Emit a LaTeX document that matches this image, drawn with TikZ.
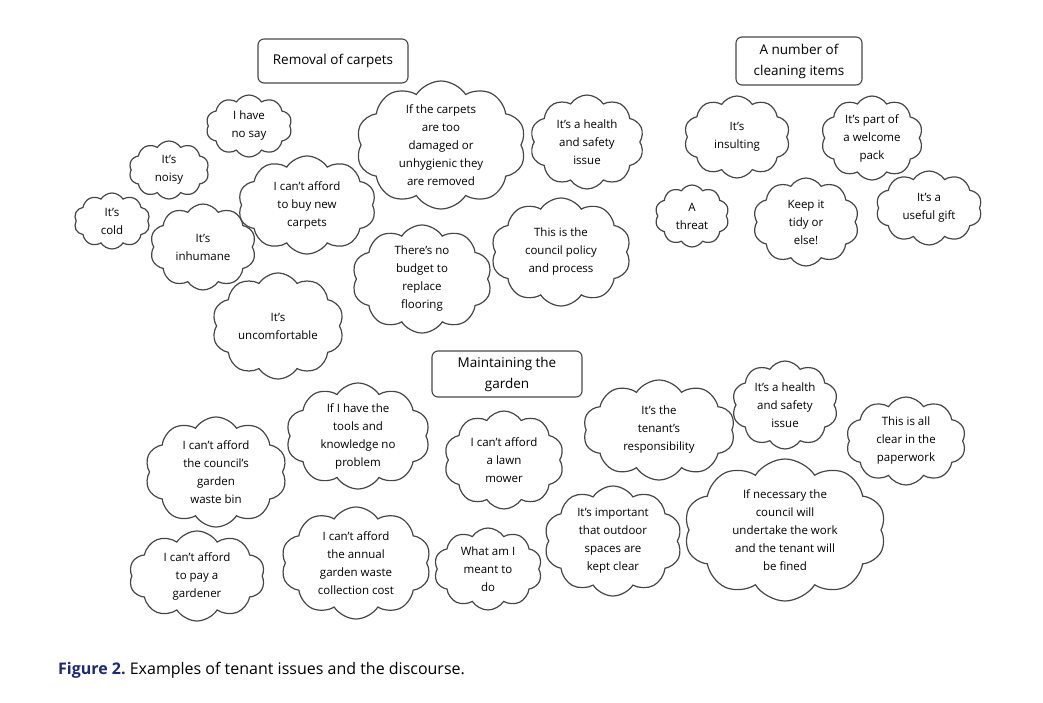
\documentclass[tikz,border=0pt]{standalone}
\usepackage{fontspec}
\setmainfont{Open Sans}
\usepackage{xcolor}
\usetikzlibrary{shapes.symbols,positioning}
\definecolor{capblue}{RGB}{25,40,120}
\definecolor{lineg}{RGB}{70,70,70}

\tikzset{
  puff/.style={cloud, draw=lineg, line width=1.2pt, cloud puffs=10, cloud puff arc=115, inner sep=0pt},
  say/.style={align=center, font=\fontsize{11.5}{18}\selectfont, inner sep=0pt},
  title/.style={draw=lineg, line width=1.1pt, rounded corners=6pt, align=center, font=\fontsize{13.5}{21}\selectfont, inner sep=0pt}
}
% cloud: name, x, y, width, height, text
\newcommand{\cld}[6]{%
  \node[puff, minimum width=#4, minimum height=#5] (#1) at (#2,#3) {};
  \node[say] (#1t) at (#1) {#6};
}

\begin{document}
\begin{tikzpicture}[x=1pt,y=-1pt]
  \useasboundingbox (0,0) rectangle (1043,703);

  % Removal of carpets
  \node[title, minimum width=150, minimum height=44] (carpets) at (333,61) {Removal of carpets};
  \cld{nosay}{249}{126}{86}{62}{I have\\no say}
  \cld{noisy}{169}{170}{80}{58}{It's\\noisy}
  \cld{cold}{112}{221}{76}{56}{It's\\cold}
  \cld{inhumane}{203}{247}{106}{86}{It's\\inhumane}
  \cld{newcarpets}{307}{205}{138}{98}{I can't afford\\to buy new\\carpets}
  \cld{damaged}{441}{145}{170}{128}{If the carpets\\are too\\damaged or\\unhygienic they\\are removed}
  \cld{safetya}{587}{142}{114}{94}{It's a health\\and safety\\issue}
  \cld{budget}{422}{279}{140}{108}{There's no\\budget to\\replace\\flooring}
  \cld{policy}{561}{252}{140}{108}{This is the\\council policy\\and process}
  \cld{uncomf}{278}{326}{132}{106}{It's\\uncomfortable}

  % A number of cleaning items
  \node[title, minimum width=126, minimum height=48] (cleaning) at (799,61) {A number of\\cleaning items};
  \cld{insult}{737}{137}{106}{82}{It's\\insulting}
  \cld{welcome}{872}{138}{102}{84}{It's part of\\a welcome\\pack}
  \cld{threat}{692}{216}{74}{62}{A\\threat}
  \cld{tidy}{806}{222}{106}{88}{Keep it\\tidy or\\else!}
  \cld{gift}{929}{208}{106}{74}{It's a\\useful gift}

  % Maintaining the garden
  \node[title, minimum width=150, minimum height=46] (garden) at (507,374) {Maintaining the\\garden};
  \cld{wastebin}{216}{472}{142}{110}{I can't afford\\the council's\\garden\\waste bin}
  \cld{tools}{358}{436}{144}{106}{If I have the\\tools and\\knowledge no\\problem}
  \cld{mower}{504}{460}{120}{98}{I can't afford\\a lawn\\mower}
  \cld{tenant}{659}{430}{152}{100}{It's the\\tenant's\\responsibility}
  \cld{safetyb}{785}{405}{106}{88}{It's a health\\and safety\\issue}
  \cld{paper}{906}{441}{120}{88}{This is all\\clear in the\\paperwork}
  \cld{gardener}{197}{576}{136}{90}{I can't afford\\to pay a\\gardener}
  \cld{annual}{356}{563}{150}{112}{I can't afford\\the annual\\garden waste\\collection cost}
  \cld{meant}{488}{569}{108}{82}{What am I\\meant to\\do}
  \cld{outdoor}{613}{541}{138}{110}{It's important\\that outdoor\\spaces are\\kept clear}
  \cld{fined}{785}{530}{202}{142}{If necessary the\\council will\\undertake the work\\and the tenant will\\be fined}

  % caption
  \node[anchor=west, inner sep=0pt, font=\fontsize{16}{18}\selectfont] (caption) at (58,670)
    {\textcolor{capblue}{\textbf{Figure 2.}}\ Examples of tenant issues and the discourse.};
\end{tikzpicture}
\end{document}
